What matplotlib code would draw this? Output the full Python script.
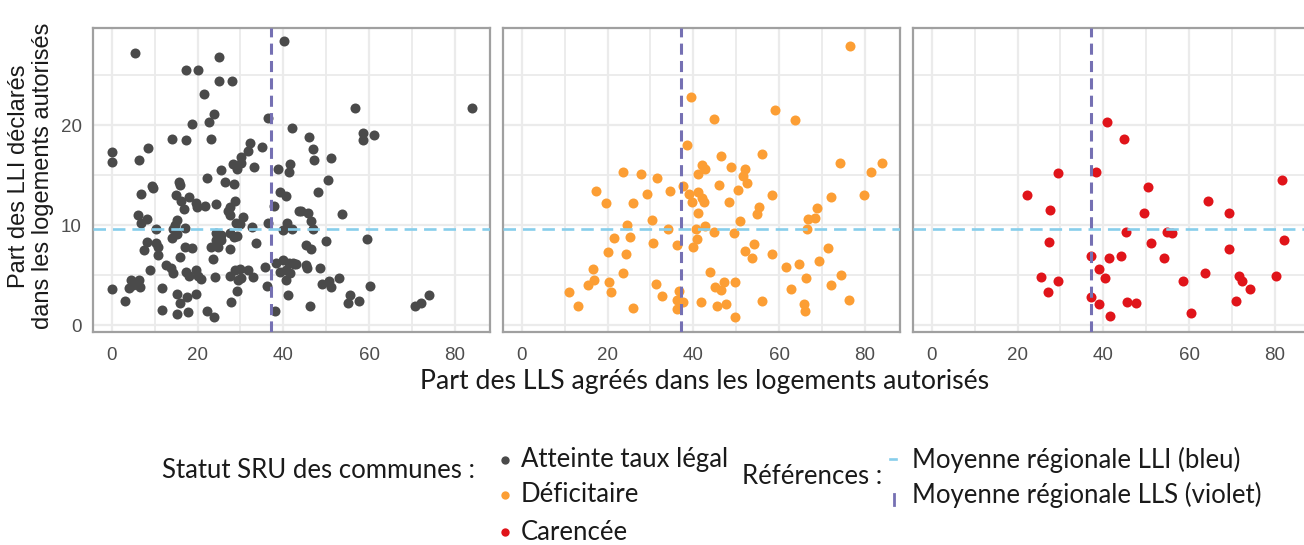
import numpy as np
import matplotlib.pyplot as plt
from matplotlib.lines import Line2D

plt.rcParams['lines.scale_dashes'] = False

# Atteinte taux légal (gris foncé)
atteinte_x = [5.4, 40.2, 25.1, 17.4, 20.0, 24.9, 28.1, 21.4, 23.8, 22.7, 18.6, 36.4, 41.9, 14.1, 17.2, 23.2,
              0, 0, 8.5, 6.4, 32.2, 31.8, 35.0, 30.2, 28.3, 30.2, 29.3, 33.2, 25.5, 38.8, 41.6, 41.3, 22.3,
              15.7, 26.3, 28.6, 9.4, 56.6, 84.1, 45.9, 58.5, 58.6, 61.1, 46.9, 47.1, 51.1, 50.4,
              6.8, 9.5, 16.0, 14.9, 18.0, 16.2, 19.6, 19.9, 21.7, 24.4, 16.8, 28.7, 27.5, 27.1, 27.5, 37.8,
              39.2, 40.7, 43.6, 6.1, 8.1, 6.7, 15.2, 14.7, 14.3, 17.0, 10.4, 14.1, 15.2, 30.6, 29.8, 28.9,
              32.8, 36.4, 39.9, 40.9, 42.1, 24.4, 25.5, 24.4, 25.5, 27.5, 28.4, 29.1, 23.2, 24.8, 27.5, 8.3,
              10.4, 10.8, 7.5, 10.8, 17.0, 18.8, 15.9, 23.6, 33.7, 8.9, 12.7, 13.9, 14.3, 17.4, 18.0, 19.6,
              20.1, 20.7, 24.0, 27.5, 28.7, 29.8, 29.4, 30.2, 31.8, 32.9, 35.7, 38.4, 39.9, 41.3, 42.4, 39.2,
              40.7, 41.5, 40.7, 36.2, 29.3, 41.1, 27.9, 4.4, 6.4, 4.0, 6.5, 5.0, 0, 3.0, 11.6, 15.1, 15.9,
              17.6, 19.6, 11.7, 15.1, 17.8, 22.2, 23.8, 38.0, 48.1, 44.0, 45.8, 53.7, 46.5, 46.9, 49.9, 59.5,
              45.2, 46.5, 42.3, 43.0, 45.2, 45.4, 48.5, 48.9, 50.7, 51.2, 52.9, 60.1, 46.3, 55.6, 55.1, 57.6,
              74.0, 72.2, 70.6]
atteinte_y = [27.2, 28.4, 26.8, 25.5, 25.5, 24.4, 24.4, 23.1, 21.1, 20.3, 20.1, 20.7, 19.7, 18.6, 18.5, 18.6,
              17.3, 16.3, 17.7, 16.5, 18.2, 17.4, 17.8, 16.8, 16.1, 16.2, 15.6, 15.8, 15.5, 15.6, 16.1, 15.3, 14.7,
              14.3, 14.3, 14.1, 13.9, 21.7, 21.7, 18.8, 19.2, 18.5, 19.0, 17.6, 16.5, 16.7, 14.5,
              13.1, 13.7, 14.0, 13.0, 12.8, 12.4, 12.2, 11.8, 11.9, 12.1, 11.6, 12.4, 11.8, 11.4, 11.0, 11.9,
              13.3, 12.9, 11.4, 11.0, 10.6, 10.2, 10.5, 10.0, 9.6, 9.7, 9.6, 8.7, 9.1, 10.8, 10.1, 10.2,
              9.8, 10.2, 9.5, 10.2, 9.6, 9.2, 9.0, 8.5, 8.5, 9.2, 8.8, 8.9, 7.8, 7.8, 7.6, 8.3,
              8.2, 7.8, 7.5, 7.0, 7.8, 7.7, 6.8, 6.6, 8.2, 5.5, 6.0, 5.7, 5.2, 5.3, 4.9, 5.5,
              4.9, 4.6, 4.8, 4.9, 5.5, 5.6, 4.5, 4.7, 5.5, 4.8, 5.8, 6.2, 6.5, 6.2, 6.1, 5.3,
              5.5, 5.2, 4.5, 3.9, 3.4, 3.0, 2.3, 4.5, 4.5, 3.7, 3.8, 4.0, 3.6, 2.4, 3.7, 3.1, 2.2,
              2.8, 3.1, 1.5, 1.1, 1.3, 1.4, 0.8, 1.4, 13.3, 11.4, 11.2, 11.1, 10.4, 9.6, 8.4, 8.6,
              8.0, 7.6, 6.2, 6.1, 6.0, 5.7, 5.7, 4.1, 4.4, 3.8, 4.7, 3.9, 1.9, 3.0, 2.2, 2.4,
              3.0, 2.2, 1.9]

# Déficitaire (orange)
deficit_x = [76.5, 39.4, 44.8, 59.0, 63.6, 38.5, 46.5, 55.9, 41.9, 42.7, 41.2, 48.7, 52.1, 51.6, 52.4, 74.2,
             84.1, 81.4, 23.7, 27.8, 31.6, 17.2, 19.6, 25.9, 29.3, 34.6, 37.7, 39.0, 41.0, 41.9, 39.6, 42.4,
             45.9, 50.3, 48.3, 58.4, 55.2, 54.8, 41.2, 50.9, 30.3, 72.1, 79.7, 68.9, 66.7, 68.4, 66.6, 24.5,
             34.1, 40.7, 42.8, 44.8, 49.5, 21.5, 25.3, 40.9, 30.5, 36.1, 39.9, 20.0, 24.4, 52.1, 54.1, 53.7,
             58.4, 71.3, 69.3, 64.6, 61.5, 16.6, 23.6, 43.8, 66.2, 74.4, 16.9, 15.5, 20.4, 31.3, 47.2, 45.0,
             46.4, 49.8, 72.0, 62.8, 11.1, 20.7, 32.7, 36.7, 36.2, 37.6, 36.2, 41.7, 45.5, 47.5, 49.7, 55.9,
             65.7, 66.1, 76.3, 13.2, 26.0]
deficit_y = [27.9, 22.8, 20.6, 21.5, 20.5, 18.0, 16.9, 17.1, 16.0, 15.6, 15.1, 15.8, 15.6, 14.9, 14.2, 16.2,
             16.2, 15.3, 15.3, 15.1, 14.7, 13.4, 12.2, 12.2, 13.1, 13.4, 13.9, 13.1, 13.3, 12.7, 12.3, 12.3,
             14.0, 13.5, 12.3, 13.0, 11.8, 11.1, 11.2, 10.4, 10.5, 12.8, 13.0, 11.7, 10.6, 10.7, 9.6, 10.0,
             9.6, 9.6, 9.9, 9.3, 9.2, 8.7, 8.8, 8.6, 8.2, 8.0, 7.8, 7.3, 7.1, 7.4, 8.1, 6.7,
             7.1, 7.7, 6.4, 6.1, 5.8, 5.6, 5.2, 5.3, 4.7, 5.0, 4.5, 4.0, 4.3, 4.1, 4.3, 3.8,
             3.5, 4.3, 4.0, 3.6, 3.3, 3.3, 2.9, 3.4, 2.5, 2.3, 1.6, 2.3, 1.9, 2.1, 0.8, 2.4,
             2.1, 1.4, 2.5, 1.9, 1.7]

# Carencée (rouge)
carence_x = [40.9, 44.8, 29.4, 38.2, 22.1, 27.5, 50.3, 49.5, 64.4, 69.3, 81.6, 45.3, 54.8, 56.0, 27.3, 51.1,
             69.2, 82.1, 37.2, 41.3, 44.0, 54.1, 38.9, 40.4, 25.4, 29.4, 27.2, 58.6, 63.6, 71.6, 72.4, 74.1,
             80.2, 37.2, 39.1, 41.6, 45.4, 47.5, 60.4, 70.9]
carence_y = [20.3, 18.6, 15.2, 15.3, 13.0, 11.5, 13.8, 11.2, 12.4, 11.2, 14.5, 9.3, 9.3, 9.2, 8.3, 8.2,
             7.6, 8.5, 6.9, 6.7, 6.9, 6.7, 5.6, 4.7, 4.8, 4.4, 3.3, 4.4, 5.2, 4.9, 4.4, 3.6,
             4.9, 2.8, 2.1, 0.9, 2.3, 2.2, 1.2, 2.4]

statuts = ['Atteinte taux légal', 'Déficitaire', 'Carencée']
couleurs = ['#4a4a4a', '#fc9e34', '#e0141a']
moy_lli = 9.6
moy_lls = 37.2

series = [(atteinte_x, atteinte_y), (deficit_x, deficit_y), (carence_x, carence_y)]

W, H = 1304, 545
fig = plt.figure(figsize=(W / 100, H / 100), dpi=100)
renderer = fig.canvas.get_renderer()

axe_font = 'Liberation Sans'
leg_font = 'Lato'


def fit_width(t, px):
    # ajuste la taille de police pour obtenir la largeur voulue
    w = t.get_window_extent(renderer).width
    t.set_fontsize(t.get_fontsize() * px / w)


lefts = [93, 503, 913]
for i, (xs, ys) in enumerate(series):
    ax = fig.add_axes([lefts[i] / W, (H - 332) / H, 397 / W, 304 / H])
    ax.scatter(xs, ys, s=52, color=couleurs[i], linewidths=0, zorder=3)
    ax.axhline(moy_lli, color='#87ceeb', lw=1.9, dashes=(9, 5), zorder=4)
    ax.axvline(moy_lls, color='#7570b3', lw=2.2, dashes=(8, 4.5), zorder=4)
    ax.set_xlim(-4.4, 88.2)
    ax.set_ylim(-0.7, 29.7)
    ax.set_xticks([0, 20, 40, 60, 80])
    ax.set_xticks([10, 30, 50, 70], minor=True)
    ax.set_yticks([0, 10, 20])
    ax.set_yticks([5, 15, 25], minor=True)
    ax.grid(which='major', color='#ebebeb', lw=1.6, zorder=0)
    ax.grid(which='minor', color='#ebebeb', lw=1.3, zorder=0)
    ax.set_axisbelow(True)
    ax.tick_params(which='both', length=0, labelsize=13.5, labelcolor='#4d4d4d')
    ax.tick_params(axis='x', pad=10.5)
    ax.tick_params(axis='y', pad=8)
    for lab in ax.get_xticklabels() + ax.get_yticklabels():
        lab.set_fontfamily(axe_font)
    if i > 0:
        ax.set_yticklabels([])
    for sp in ax.spines.values():
        sp.set_color('#a0a0a0')
        sp.set_linewidth(1.6)

xt = fig.text(705 / W, 1 - 382 / H, 'Part des LLS agréés dans les logements autorisés',
              ha='center', va='center', fontsize=15, family=leg_font, color='#1a1a1a')
fit_width(xt, 570)
fig.text(31 / W, 1 - 176 / H, 'Part des LLI déclarés\ndans les logements autorisés',
         ha='center', va='center', rotation=90, fontsize=17, family=axe_font,
         color='#1a1a1a', linespacing=1.1)

# légende
t0 = fig.text(475 / W, 1 - 470 / H, 'Statut SRU des communes :', ha='right', va='center',
              fontsize=15, family=leg_font, color='#1a1a1a')
fit_width(t0, 315)
fs = t0.get_fontsize()

rows = [460, 495, 532]
for lab, c, yy in zip(statuts, couleurs, rows):
    fig.add_artist(Line2D([505 / W], [1 - yy / H], marker='o', markersize=6,
                          color=c, markeredgewidth=0, transform=fig.transFigure))
    fig.text(521 / W, 1 - yy / H, lab, ha='left', va='center', fontsize=fs,
             family=leg_font, color='#1a1a1a')

fig.text(882 / W, 1 - 477 / H, 'Références :', ha='right', va='center',
         fontsize=fs, family=leg_font, color='#1a1a1a')
fig.add_artist(Line2D([890 / W, 896 / W], [1 - 459 / H, 1 - 459 / H], color='#87ceeb',
                      lw=1.9, transform=fig.transFigure))
fig.add_artist(Line2D([894 / W, 894 / W], [1 - 494 / H, 1 - 505 / H], color='#7570b3',
                      lw=2.0, transform=fig.transFigure))
fig.text(912 / W, 1 - 460 / H, 'Moyenne régionale LLI (bleu)', ha='left', va='center',
         fontsize=fs, family=leg_font, color='#1a1a1a')
fig.text(912 / W, 1 - 495 / H, 'Moyenne régionale LLS (violet)', ha='left', va='center',
         fontsize=fs, family=leg_font, color='#1a1a1a')

fig.savefig('out.png', dpi=100)
